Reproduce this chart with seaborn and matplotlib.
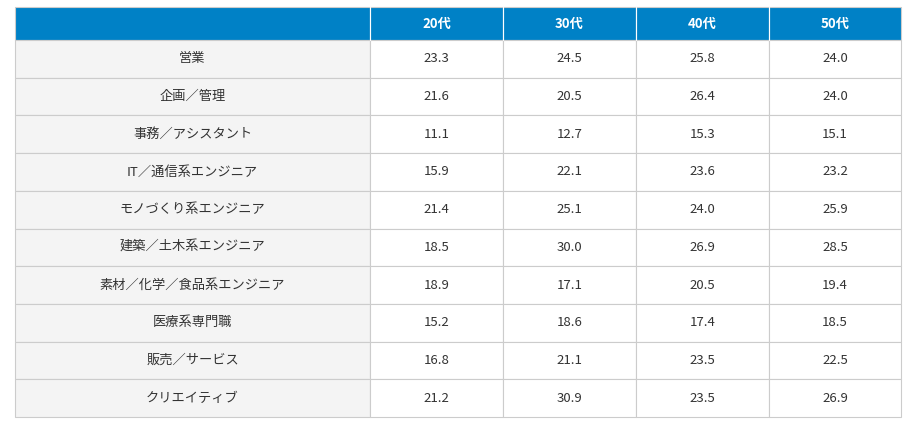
import matplotlib.pyplot as plt
from matplotlib.patches import Rectangle
import seaborn as sns

sns.set_theme(style="white", font="Noto Sans CJK JP")

#table content
columns = ["20代", "30代", "40代", "50代"]
jobs = ["営業", "企画／管理", "事務／アシスタント", "IT／通信系エンジニア", "モノづくり系エンジニア",
        "建築／土木系エンジニア", "素材／化学／食品系エンジニア", "医療系専門職", "販売／サービス", "クリエイティブ"]
v20 = [23.3, 21.6, 11.1, 15.9, 21.4, 18.5, 18.9, 15.2, 16.8, 21.2]
v30 = [24.5, 20.5, 12.7, 22.1, 25.1, 30.0, 17.1, 18.6, 21.1, 30.9]
v40 = [25.8, 26.4, 15.3, 23.6, 24.0, 26.9, 20.5, 17.4, 23.5, 23.5]
v50 = [24.0, 24.0, 15.1, 23.2, 25.9, 28.5, 19.4, 18.5, 22.5, 26.9]
values = [v20, v30, v40, v50]

col_edges = [0, 355, 488, 621, 754, 886]
header_h = 33
row_h = (410 - header_h) / len(jobs)
border = "#cccccc"
header_color = "#0081c6"

fig = plt.figure(figsize=(9.17, 4.28), dpi=100)
ax = fig.add_axes([15 / 917, 1 - 418 / 428, 887 / 917, 411 / 428])
ax.set_xlim(0, 887)
ax.set_ylim(411, 0)
ax.axis("off")

def cell(x0, x1, y0, y1, face, text, color, weight="normal"):
    ax.add_patch(Rectangle((x0, y0), x1 - x0, y1 - y0, facecolor=face, edgecolor=border,
                           lw=0.8, clip_on=False))
    ax.text((x0 + x1) / 2, (y0 + y1) / 2, text, ha="center", va="center",
            fontsize=9.5, color=color, fontweight=weight)

#header row
cell(col_edges[0], col_edges[1], 0, header_h, header_color, "", "white")
for j, c in enumerate(columns):
    cell(col_edges[j + 1], col_edges[j + 2], 0, header_h, header_color, c, "white", "bold")
for j in range(1, 5):
    ax.plot([col_edges[j]] * 2, [0, header_h], color="white", lw=0.8)

#body rows
for i, job in enumerate(jobs):
    y0 = header_h + i * row_h
    y1 = y0 + row_h
    cell(col_edges[0], col_edges[1], y0, y1, "#f4f4f4", job, "#333333")
    for j, series in enumerate(values):
        cell(col_edges[j + 1], col_edges[j + 2], y0, y1, "white", f"{series[i]:.1f}", "#333333")

fig.savefig("out.png", dpi=100)
